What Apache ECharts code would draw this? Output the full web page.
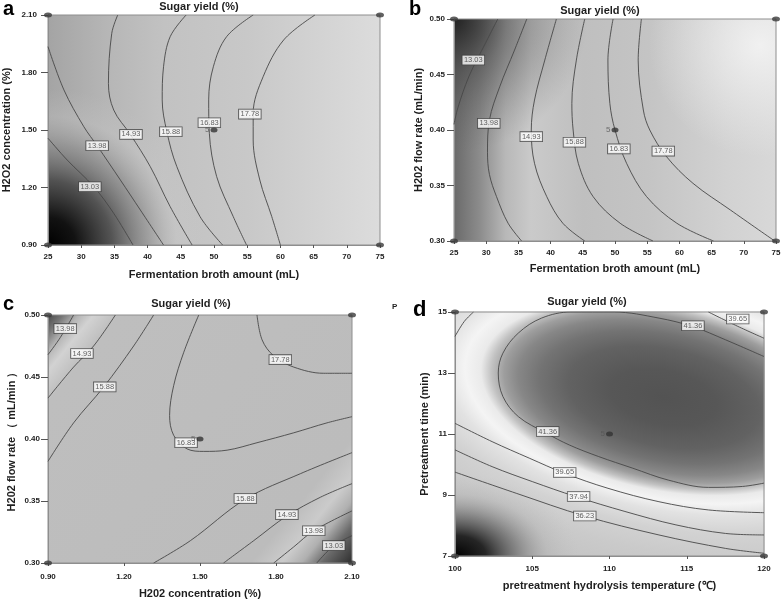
<!DOCTYPE html>
<html><head><meta charset="utf-8">
<script src="https://cdn.jsdelivr.net/npm/echarts@6/dist/echarts.min.js"></script>
<style>html,body{margin:0;padding:0;background:#fff}#c{width:784px;height:602px}</style>
</head><body><div id="c"></div>
<script>
// ---------------- DATA ----------------
const xTicksA = [25,30,35,40,45,50,55,60,65,70,75];
const yTicksA = [0.90,1.20,1.50,1.80,2.10];
const xTicksB = [25,30,35,40,45,50,55,60,65,70,75];
const yTicksB = [0.30,0.35,0.40,0.45,0.50];
const xTicksC = [0.90,1.20,1.50,1.80,2.10];
const yTicksC = [0.30,0.35,0.40,0.45,0.50];
const xTicksD = [100,105,110,115,120];
const yTicksD = [7,9,11,13,15];

// Panel a contours (x: broth amount, y: H2O2 conc.)
const a1303 = [[25,1.457],[27.9,1.343],[31.9,1.204],[34.9,1.065],[37.8,0.90]];
const a1398 = [[25,1.935],[27.4,1.709],[30.4,1.517],[32.4,1.418],[35.9,1.239],[38.9,1.083],[42.4,0.90]];
const a1493 = [[35.5,2.10],[34.6,2.004],[34.1,1.743],[34.9,1.604],[37.4,1.477],[40.4,1.309],[43.4,1.10],[46.7,0.90]];
const a1588 = [[45.8,2.10],[43.4,1.987],[42.4,1.83],[42.2,1.657],[42.9,1.491],[44.4,1.309],[47.9,1.048],[51.3,0.90]];
const a1683 = [[55.9,2.10],[51.9,1.987],[49.9,1.83],[49.2,1.657],[49.3,1.483],[50.4,1.257],[52.9,1.048],[54.9,0.90]];
const a1778 = [[65.2,2.10],[60.5,1.97],[57.4,1.778],[55.9,1.587],[55.9,1.448],[56.9,1.239],[58.7,1.048],[60.0,0.90]];
const labelsA = [[31.3,1.204,'13.03'],[32.4,1.418,'13.98'],[37.5,1.477,'14.93'],[43.5,1.491,'15.88'],[49.3,1.538,'16.83'],[55.4,1.583,'17.78']];
const cornersA = [[25,0.9],[25,2.1],[75,0.9],[75,2.1]];
const centerA = [50,1.5];

// Panel b contours (x: broth amount, y: flow rate)
const b1303 = [[31.8,0.50],[29.6,0.475],[27.3,0.448],[25.6,0.42],[25,0.405]];
const b1398 = [[36.3,0.50],[34.4,0.472],[32.1,0.439],[30.5,0.409],[30.2,0.38],[30.5,0.36],[31.6,0.34],[33.4,0.316],[35.5,0.30]];
const b1493 = [[40.9,0.50],[39.1,0.463],[37.5,0.427],[37.0,0.40],[37.5,0.37],[39.4,0.34],[41.9,0.316],[45.3,0.30]];
const b1588 = [[45.3,0.50],[44.0,0.463],[43.3,0.424],[43.5,0.40],[44.3,0.37],[46.6,0.34],[50.8,0.316],[55.9,0.30]];
const b1683 = [[49.7,0.50],[48.9,0.463],[49.2,0.424],[50.0,0.40],[51.8,0.37],[54.9,0.34],[59.6,0.316],[65.3,0.30]];
const b1778 = [[54.1,0.50],[53.6,0.463],[54.4,0.418],[55.4,0.40],[58.0,0.376],[62.1,0.352],[67.9,0.328],[74.8,0.30]];
const labelsB = [[28.0,0.463,'13.03'],[30.4,0.406,'13.98'],[37.0,0.394,'14.93'],[43.7,0.389,'15.88'],[50.6,0.383,'16.83'],[57.5,0.381,'17.78']];
const cornersB = [[25,0.3],[25,0.5],[75,0.3],[75,0.5]];
const centerB = [50,0.4];

// Panel c contours (x: H2O2 conc., y: flow rate)
const c1398a = [[0.9,0.468],[0.949,0.482],[1.001,0.50]];
const c1493a = [[0.9,0.433],[1.001,0.458],[1.08,0.475],[1.166,0.50]];
const c1588a = [[0.9,0.382],[1.001,0.413],[1.12,0.442],[1.238,0.475],[1.317,0.50]];
const c1683 = [[1.495,0.50],[1.436,0.47],[1.396,0.443],[1.38,0.419],[1.396,0.403],[1.449,0.392],[1.515,0.39],[1.607,0.391],[1.725,0.397],[1.87,0.405],[2.001,0.413],[2.1,0.418]];
const c1778 = [[1.725,0.50],[1.745,0.48],[1.791,0.467],[1.87,0.458],[1.988,0.453],[2.1,0.453]];
const c1588b = [[1.317,0.30],[1.462,0.318],[1.679,0.3515],[1.896,0.372],[2.1,0.389]];
const c1493b = [[1.593,0.30],[1.712,0.318],[1.843,0.338],[1.975,0.353],[2.1,0.364]];
const c1398b = [[1.791,0.30],[1.87,0.313],[1.949,0.326],[2.1,0.342]];
const c1303b = [[1.961,0.30],[2.028,0.314],[2.1,0.322]];
const labelsC = [[0.968,0.489,'13.98'],[1.034,0.469,'14.93'],[1.124,0.442,'15.88'],[1.445,0.397,'16.83'],[1.817,0.464,'17.78'],[1.679,0.352,'15.88'],[1.843,0.339,'14.93'],[1.949,0.326,'13.98'],[2.028,0.314,'13.03']];
const cornersC = [[0.9,0.3],[0.9,0.5],[2.1,0.3],[2.1,0.5]];
const centerC = [1.5,0.4];

// Panel d contours (x: temperature, y: time)
const d4136 = [[120,13.54],[117.5,14.09],[115.4,14.52],[113.2,14.8],[110.3,15.0],[107.5,15.0],[105.6,14.8],[104.1,14.31],[103.1,13.65],[102.8,13.0],[103.1,12.23],[104.1,11.57],[105.9,11.03],[107.4,10.64],[109.3,10.26],[111.5,9.88],[113.8,9.49],[116.4,9.25],[118.6,9.28],[120,9.39]];
const d3965a = [[101.2,15.0],[100.6,14.69],[100,14.2]];
const d3965b = [[116.4,15.0],[118.3,14.53],[120,14.14]];
const d3965c = [[100,11.35],[102.4,10.75],[104.8,10.21],[107.1,9.71],[109.9,9.22],[113.2,8.78],[116.4,8.51],[120,8.42]];
const d3794 = [[100,10.48],[102.4,9.93],[105,9.44],[107.8,8.95],[111,8.46],[114.3,8.02],[117.5,7.74],[120,7.69]];
const d3623 = [[100,9.75],[104,9.05],[108.4,8.31],[113.2,7.69],[117.5,7.25],[120,7.09]];
const labelsD = [[115.4,14.55,'41.36'],[118.3,14.77,'39.65'],[106.0,11.08,'41.36'],[107.1,9.74,'39.65'],[108.0,8.95,'37.94'],[108.4,8.31,'36.23']];
const cornersD = [[100,7],[100,15],[120,7],[120,15]];
const centerD = [110,11];
const dEllipseCenter = [113.5,12.2];

// ---------------- LAYOUT / STYLE ----------------
const FONT = 'Liberation Sans, Arial, sans-serif';
const GRIDS = [
  {left:48, top:15, width:332, height:230},
  {left:454, top:19, width:322, height:222},
  {left:48, top:315, width:304, height:248},
  {left:455, top:312, width:309, height:244}
];
const RANGES = [
  {x:[25,75], y:[0.9,2.1], xi:5, yi:0.3},
  {x:[25,75], y:[0.3,0.5], xi:5, yi:0.05},
  {x:[0.9,2.1], y:[0.3,0.5], xi:0.3, yi:0.05},
  {x:[100,120], y:[7,15], xi:5, yi:1}
];
const XT = [xTicksA,xTicksB,xTicksC,xTicksD];
const YT = [yTicksA,yTicksB,yTicksC,yTicksD];
const XF = [v=>String(v), v=>String(v), v=>v.toFixed(2), v=>String(v)];
const YF = [v=>v.toFixed(2), v=>v.toFixed(2), v=>v.toFixed(2), v=>String(v)];
const XNAME = ['Fermentation broth amount (mL)','Fermentation broth amount (mL)','H202 concentration (%)','pretreatment hydrolysis temperature (\u2103)'];
const YNAME = ['H2O2 concentration (%)','H202 flow rate (mL/min)','H202 flow rate \uFF08 mL/min \uFF09','Pretreatment time (min)'];
const XGAP = [24,22,25,24], YGAP = [36,30,31,25];
const XMARGIN = [8,8,10,9], YMARGIN = [11,9,8,8];

const axColor = '#8e8e8e';
const xAxis = [], yAxis = [];
for (let i=0;i<4;i++){
  xAxis.push({type:'value', gridIndex:i, min:RANGES[i].x[0], max:RANGES[i].x[1], interval:RANGES[i].xi,
    name:XNAME[i], nameLocation:'middle', nameGap:XGAP[i],
    nameTextStyle:{fontSize:11, fontWeight:'bold', color:'#1e1e1e', fontFamily:FONT},
    axisLine:{show:true, onZero:false, lineStyle:{color:axColor, width:1}},
    axisTick:{show:true, length:3, customValues:XT[i], lineStyle:{color:'#555'}},
    axisLabel:{customValues:XT[i], formatter:XF[i], fontSize:8, fontWeight:'bold', color:'#222', fontFamily:FONT, margin:XMARGIN[i]},
    splitLine:{show:false}});
  yAxis.push({type:'value', gridIndex:i, min:RANGES[i].y[0], max:RANGES[i].y[1], interval:RANGES[i].yi,
    name:YNAME[i], nameLocation:'middle', nameGap:YGAP[i],
    nameTextStyle:{fontSize:11, fontWeight:'bold', color:'#1e1e1e', fontFamily:FONT},
    axisLine:{show:true, onZero:false, lineStyle:{color:axColor, width:1}},
    axisTick:{show:true, length:7, customValues:YT[i], lineStyle:{color:'#555'}},
    axisLabel:{customValues:YT[i], formatter:YF[i], fontSize:8, fontWeight:'bold', color:'#222', fontFamily:FONT, margin:YMARGIN[i]},
    splitLine:{show:false}});
}

const series = [];
function addContours(gi, list){
  list.forEach(d => series.push({type:'line', xAxisIndex:gi, yAxisIndex:gi, data:d, smooth:0.35,
    symbol:'none', silent:true, z:3, lineStyle:{color:'#474747', width:0.9}}));
}
function addLabels(gi, labels){
  series.push({type:'scatter', xAxisIndex:gi, yAxisIndex:gi, silent:true, z:6,
    data: labels.map(l=>({value:[l[0],l[1]], name:l[2]})),
    symbolSize:1, itemStyle:{color:'rgba(0,0,0,0)'},
    label:{show:true, position:'inside', formatter:'{b}', fontSize:7.5, fontFamily:FONT, color:'#3a3a3a',
      backgroundColor:'#fff', borderColor:'#3a3a3a', borderWidth:0.8, padding:[1,1.5,0,1.5], lineHeight:8}});
}
function addPoints(gi, corners, center){
  series.push({type:'scatter', xAxisIndex:gi, yAxisIndex:gi, silent:true, z:7, clip:false,
    data:corners, symbol:'circle', symbolSize:[8,5], itemStyle:{color:'#3a3a3a'}});
  series.push({type:'scatter', xAxisIndex:gi, yAxisIndex:gi, silent:true, z:7,
    data:[{value:center, name:'5'}], symbol:'circle', symbolSize:[7,5], itemStyle:{color:'#333'},
    label:{show:true, position:'left', distance:1, formatter:'{b}', fontSize:8, color:'#555', fontFamily:FONT}});
}
addContours(0,[a1303,a1398,a1493,a1588,a1683,a1778]); addLabels(0,labelsA); addPoints(0,cornersA,centerA);
addContours(1,[b1303,b1398,b1493,b1588,b1683,b1778]); addLabels(1,labelsB); addPoints(1,cornersB,centerB);
addContours(2,[c1398a,c1493a,c1588a,c1683,c1778,c1588b,c1493b,c1398b,c1303b]); addLabels(2,labelsC); addPoints(2,cornersC,centerC);
addContours(3,[d4136,d3965a,d3965b,d3965c,d3794,d3623]); addLabels(3,labelsD); addPoints(3,cornersD,centerD);

const option = {
  animation:false,
  backgroundColor:'#fff',
  grid: GRIDS.map(g=>Object.assign({show:true, borderColor:axColor, borderWidth:1, backgroundColor:'transparent', containLabel:false}, g)),
  xAxis, yAxis, series
};

const chart = echarts.init(document.getElementById('c'));
chart.setOption(option);

// ---------------- SHADING (background gradients) ----------------
function stops(s){return s.map(p=>({offset:p[0], color:p[1]}));}
function lin(x,y,x2,y2,s){return new echarts.graphic.LinearGradient(x,y,x2,y2,stops(s));}
function rad(x,y,r,s){return new echarts.graphic.RadialGradient(x,y,r,stops(s));}
function rectOf(g, fill, z, extra){
  return Object.assign({type:'rect', x:g.left, y:g.top, silent:true, z:z,
    shape:{x:0,y:0,width:g.width,height:g.height}, style:{fill:fill}}, extra||{});
}
const G = GRIDS;
const ec = chart.convertToPixel({gridIndex:3}, dEllipseCenter);
const graphics = [
  // panel a
  rectOf(G[0], lin(0,0,1,0,[[0,'#a4a4a4'],[0.18,'#b6b6b6'],[0.35,'#c2c2c2'],[0.6,'#c8c8c8'],[0.8,'#d2d2d2'],[1,'#dcdcdc']]), -2),
  rectOf(G[0], rad(0,1,0.8,[[0,'rgba(0,0,0,1)'],[0.15,'rgba(12,12,12,0.96)'],[0.35,'rgba(60,60,60,0.8)'],[0.55,'rgba(130,130,130,0.5)'],[0.7,'rgba(200,200,200,0.3)'],[0.85,'rgba(200,200,200,0)']]), -1.5),
  // panel b
  rectOf(G[1], lin(0,0,1,0,[[0,'#6a6a6a'],[0.08,'#8c8c8c'],[0.16,'#b8b8b8'],[0.24,'#cacaca'],[0.4,'#bfbfbf'],[0.6,'#c4c4c4'],[0.85,'#d2d2d2'],[1,'#d8d8d8']]), -2),
  rectOf(G[1], rad(0,0,0.6,[[0,'rgba(30,30,30,0.95)'],[0.4,'rgba(60,60,60,0.5)'],[1,'rgba(100,100,100,0)']]), -1.5),
  rectOf(G[1], rad(0.95,0.12,0.5,[[0,'rgba(245,245,245,0.85)'],[1,'rgba(240,240,240,0)']]), -1.4),
  // panel c
  rectOf(G[2], lin(0,0,1,1,[[0,'#4a4a4a'],[0.03,'#777777'],[0.06,'#b5b5b5'],[0.09,'#d2d2d2'],[0.14,'#bebebe'],[0.8,'#bcbcbc'],[0.86,'#cbcbcb'],[0.9,'#b0b0b0'],[0.94,'#6a6a6a'],[1,'#2e2e2e']]), -2),
  // panel d: tilted elliptical bowl
  {type:'rect', x:ec[0], y:ec[1], rotation:-0.2, scaleX:2, scaleY:1, silent:true, z:-3,
    shape:{x:-112.5, y:-110, width:180, height:310},
    style:{fill: rad(0.625,0.355,1,[[0,'#535353'],[0.15,'#575757'],[0.27,'#626262'],[0.35,'#737373'],[0.41,'#878787'],[0.45,'#9e9e9e'],[0.485,'#c2c2c2'],[0.515,'#eaeaea'],[0.56,'#f4f4f4'],[0.62,'#e2e2e2'],[0.72,'#d2d2d2'],[0.85,'#cacaca'],[1,'#c4c4c4']])}},
  {type:'rect', x:G[3].left, y:G[3].top, scaleX:1.5, silent:true, z:-1,
    shape:{x:0,y:0,width:G[3].width/1.5,height:G[3].height},
    style:{fill: rad(0,1,0.4,[[0,'rgba(0,0,0,1)'],[0.25,'rgba(20,20,20,0.9)'],[0.5,'rgba(80,80,80,0.55)'],[0.75,'rgba(150,150,150,0.2)'],[1,'rgba(180,180,180,0)']])}},
  // white masks around panel d
  {type:'rect', silent:true, z:-2.5, shape:{x:G[2].left+G[2].width+0.5, y:G[1].top+G[1].height+0.5, width:784, height:G[3].top-(G[1].top+G[1].height)-1}, style:{fill:'#fff'}},
  {type:'rect', silent:true, z:-2.5, shape:{x:G[2].left+G[2].width+0.5, y:G[1].top+G[1].height+0.5, width:G[3].left-(G[2].left+G[2].width)-1, height:602}, style:{fill:'#fff'}},
  {type:'rect', silent:true, z:-2.5, shape:{x:G[2].left+G[2].width+0.5, y:G[3].top+G[3].height+0.5, width:784, height:60}, style:{fill:'#fff'}},
  {type:'rect', silent:true, z:-2.5, shape:{x:G[3].left+G[3].width+0.5, y:G[1].top+G[1].height+0.5, width:40, height:602}, style:{fill:'#fff'}},
  // titles
  {type:'text', x:199, y:6.5, z:10, silent:true, style:{text:'Sugar yield (%)', fontSize:11, fontWeight:'bold', fontFamily:FONT, fill:'#1e1e1e', align:'center', verticalAlign:'middle'}},
  {type:'text', x:600, y:11, z:10, silent:true, style:{text:'Sugar yield (%)', fontSize:11, fontWeight:'bold', fontFamily:FONT, fill:'#1e1e1e', align:'center', verticalAlign:'middle'}},
  {type:'text', x:191, y:303.5, z:10, silent:true, style:{text:'Sugar yield (%)', fontSize:11, fontWeight:'bold', fontFamily:FONT, fill:'#1e1e1e', align:'center', verticalAlign:'middle'}},
  {type:'text', x:587, y:302, z:10, silent:true, style:{text:'Sugar yield (%)', fontSize:11, fontWeight:'bold', fontFamily:FONT, fill:'#1e1e1e', align:'center', verticalAlign:'middle'}},
  // panel letters
  {type:'text', x:3, y:9, z:10, silent:true, style:{text:'a', fontSize:20, fontWeight:'bold', fontFamily:FONT, fill:'#000', align:'left', verticalAlign:'middle'}},
  {type:'text', x:409, y:9, z:10, silent:true, style:{text:'b', fontSize:20, fontWeight:'bold', fontFamily:FONT, fill:'#000', align:'left', verticalAlign:'middle'}},
  {type:'text', x:3, y:304, z:10, silent:true, style:{text:'c', fontSize:20, fontWeight:'bold', fontFamily:FONT, fill:'#000', align:'left', verticalAlign:'middle'}},
  {type:'text', x:413, y:310, z:10, silent:true, style:{text:'d', fontSize:22, fontWeight:'bold', fontFamily:FONT, fill:'#000', align:'left', verticalAlign:'middle'}},
  {type:'text', x:392, y:307, z:10, silent:true, style:{text:'P', fontSize:8, fontWeight:'bold', fontFamily:FONT, fill:'#222', align:'left', verticalAlign:'middle'}}
];
chart.setOption({graphic: graphics});
</script>
</body></html>
